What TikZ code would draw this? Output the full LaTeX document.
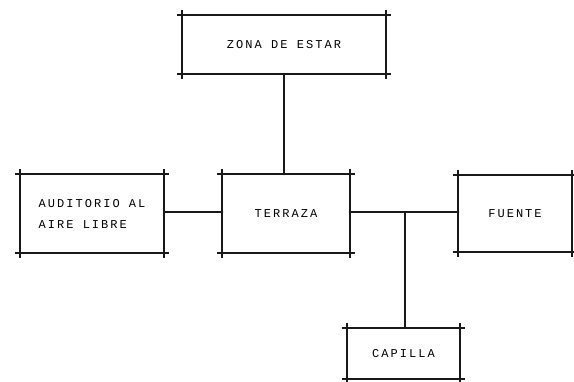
\documentclass[tikz,border=0pt]{standalone}
\usepackage{fontspec}
\setmonofont{Liberation Mono}[LetterSpace=17]
\begin{document}
\begin{tikzpicture}[x=1pt,y=-1pt,
  room/.style={rectangle,inner sep=0pt,font=\ttfamily\fontsize{12}{21}\selectfont,align=left},
  wall/.style={line width=1.7pt,black!90},
  link/.style={line width=1.3pt,black!90},
  knot/.style={circle,fill=black!90,inner sep=0pt,minimum size=3.6pt}]
\useasboundingbox (0,0) rectangle (574,382);
% rooms
\node[room,minimum width=204pt,minimum height=59pt] (zona) at (284,44.5) {ZONA DE ESTAR};
\node[room,minimum width=144pt,minimum height=79pt] (aud)  at (92,213.5) {AUDITORIO AL\\AIRE LIBRE};
\node[room,minimum width=128pt,minimum height=79pt] (ter)  at (286,213.5) {TERRAZA};
\node[room,minimum width=114pt,minimum height=77pt] (fue)  at (515,213.5) {FUENTE};
\node[room,minimum width=113pt,minimum height=51pt] (cap)  at (403.5,353.5) {CAPILLA};
% box outlines with crossing corners
\foreach \n in {zona,aud,ter,fue,cap}{
  \draw[wall] ([xshift=-5pt]\n.north west) -- ([xshift=5pt]\n.north east);
  \draw[wall] ([xshift=-5pt]\n.south west) -- ([xshift=5pt]\n.south east);
  \draw[wall] ([yshift=5pt]\n.north west) -- ([yshift=-5pt]\n.south west);
  \draw[wall] ([yshift=5pt]\n.north east) -- ([yshift=-5pt]\n.south east);
  \foreach \c in {north west,north east,south west,south east}
    \node[knot] at (\n.\c) {};
}
% connections
\coordinate (j) at (405,212);
\draw[link] (zona.south) -- (zona.south |- ter.north);
\draw[link] (aud.east |- j) -- (ter.west |- j);
\draw[link] (ter.east |- j) -- (fue.west |- j);
\draw[link] (j) -- (j |- cap.north);
\node[knot,minimum size=3pt] at (zona.south |- ter.north) {};
\node[knot,minimum size=3pt] at (ter.west |- j) {};
\node[knot,minimum size=3pt] at (ter.east |- j) {};
\node[knot,minimum size=3pt] at (fue.west |- j) {};
\end{tikzpicture}
\end{document}
